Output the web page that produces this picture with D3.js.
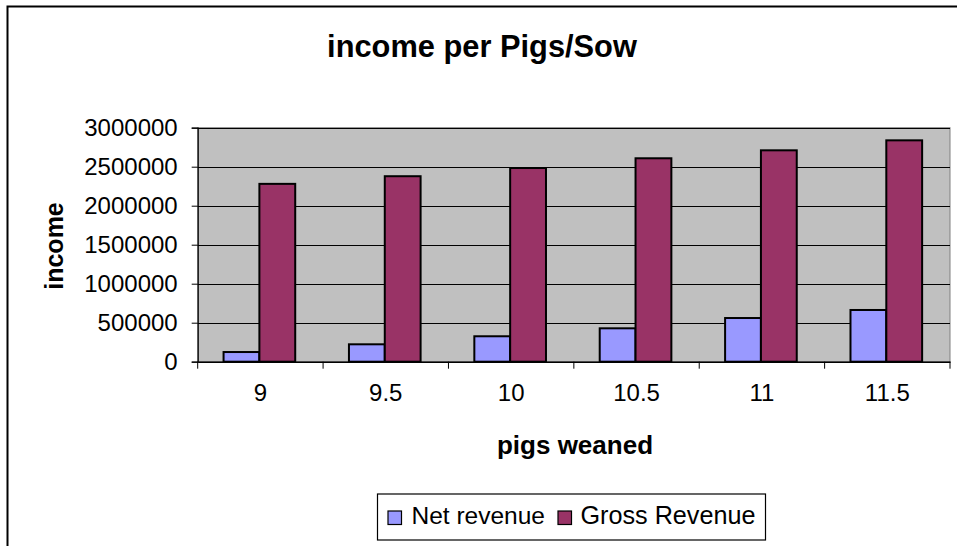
<!DOCTYPE html>
<html>
<head>
<meta charset="utf-8">
<script src="https://cdn.jsdelivr.net/npm/d3@7"></script>
<style>
html, body { margin: 0; padding: 0; background: #fff; }
svg { display: block; font-family: "Liberation Sans", Arial, sans-serif; }
</style>
</head>
<body>
<svg id="chart" width="957" height="546"></svg>
<script>
const categories = ["9", "9.5", "10", "10.5", "11", "11.5"];
const seriesNames = ["Net revenue", "Gross Revenue"];
const netRevenue = [124000, 223000, 326000, 428000, 560000, 663000];
const grossRevenue = [2280000, 2378000, 2483000, 2608000, 2710000, 2838000];
const yTicks = [0, 500000, 1000000, 1500000, 2000000, 2500000, 3000000];
const colors = ["#9999FF", "#993366"];

const svg = d3.select("#chart");
const W = 957, H = 546;
const plot = { left: 197.7, right: 950, top: 127.7, bottom: 361.7 };

// outer chart border
svg.append("rect").attr("x", 7.5).attr("y", 6.5).attr("width", W).attr("height", H)
  .attr("fill", "#fff").attr("stroke", "#000").attr("stroke-width", 2);

const x = d3.scaleBand().domain(categories).range([plot.left, plot.right]).paddingInner(0).paddingOuter(0);
const y = d3.scaleLinear().domain([0, 3000000]).range([plot.bottom, plot.top]);
const barW = x.bandwidth() / 3.5;
const xs = d3.scaleBand().domain(seriesNames).range([0, barW * 2]);

// plot background
svg.append("rect").attr("x", plot.left).attr("y", plot.top)
  .attr("width", plot.right - plot.left).attr("height", plot.bottom - plot.top)
  .attr("fill", "#C0C0C0").attr("stroke", "#808080").attr("stroke-width", 1);

// gridlines
svg.append("g").selectAll("line").data(yTicks.filter(d => d > 0)).join("line")
  .attr("x1", plot.left).attr("x2", plot.right)
  .attr("y1", d => Math.round(y(d)) + 0.5).attr("y2", d => Math.round(y(d)) + 0.5)
  .attr("stroke", "#000").attr("stroke-width", 1);

// bars
const data = categories.map((c, i) => ({ c, vals: [netRevenue[i], grossRevenue[i]] }));
const groups = svg.append("g").selectAll("g").data(data).join("g")
  .attr("transform", d => `translate(${x(d.c) + (x.bandwidth() - barW * 2) / 2 - 1},0)`);
groups.selectAll("rect").data(d => d.vals.map((v, j) => ({ v, j }))).join("rect")
  .attr("x", d => xs(seriesNames[d.j]))
  .attr("y", d => y(d.v))
  .attr("width", barW)
  .attr("height", d => y(0) - y(d.v))
  .attr("fill", d => colors[d.j])
  .attr("stroke", "#000").attr("stroke-width", 2);

// y axis
const yAxis = d3.axisLeft(y).tickValues(yTicks).tickSize(6).tickPadding(14).tickFormat(d3.format("d"));
const gy = svg.append("g").attr("transform", `translate(${plot.left},0)`).call(yAxis);
gy.select(".domain").attr("stroke", "#000").attr("stroke-width", 1.2);
gy.selectAll(".tick line").attr("stroke", "#000");
gy.selectAll(".tick text").attr("font-size", 24).attr("fill", "#000")
  .attr("font-family", "'Liberation Sans', Arial, sans-serif");

// x axis
const xAxis = d3.axisBottom(x).tickSize(0).tickPadding(22);
const gx = svg.append("g").attr("transform", `translate(0,${plot.bottom})`).call(xAxis);
gx.select(".domain").attr("stroke", "#000").attr("stroke-width", 1.5);
gx.selectAll(".tick text").attr("font-size", 24).attr("fill", "#000")
  .attr("font-family", "'Liberation Sans', Arial, sans-serif");
// category separator ticks
const sepX = categories.map(c => x(c)).concat([plot.right]);
svg.append("g").selectAll("line").data(sepX).join("line")
  .attr("x1", d => d).attr("x2", d => d)
  .attr("y1", plot.bottom).attr("y2", plot.bottom + 7)
  .attr("stroke", "#000").attr("stroke-width", 1);

// title
svg.append("text").attr("x", 482).attr("y", 56.5).attr("text-anchor", "middle")
  .attr("font-size", 30.8).attr("font-weight", "bold").text("income per Pigs/Sow");

// axis titles
svg.append("text").attr("x", 575).attr("y", 454).attr("text-anchor", "middle")
  .attr("font-size", 26).attr("font-weight", "bold").text("pigs weaned");
svg.append("text").attr("transform", "translate(63,246) rotate(-90)")
  .attr("text-anchor", "middle").attr("font-size", 25).attr("font-weight", "bold").text("income");

// legend
const lg = svg.append("g");
lg.append("rect").attr("x", 377.5).attr("y", 494).attr("width", 388).attr("height", 46)
  .attr("fill", "#fff").attr("stroke", "#000").attr("stroke-width", 1.2);
const legendItems = [
  { name: seriesNames[0], sx: 388, tx: 411.5, fs: 24.5 },
  { name: seriesNames[1], sx: 558, tx: 580.5, fs: 25.2 }
];
legendItems.forEach((it, i) => {
  lg.append("rect").attr("x", it.sx).attr("y", 511).attr("width", 13.5).attr("height", 13.5)
    .attr("fill", colors[i]).attr("stroke", "#000").attr("stroke-width", 1.2);
  lg.append("text").attr("x", it.tx).attr("y", 523.5).attr("font-size", it.fs).text(it.name);
});
</script>
</body>
</html>
